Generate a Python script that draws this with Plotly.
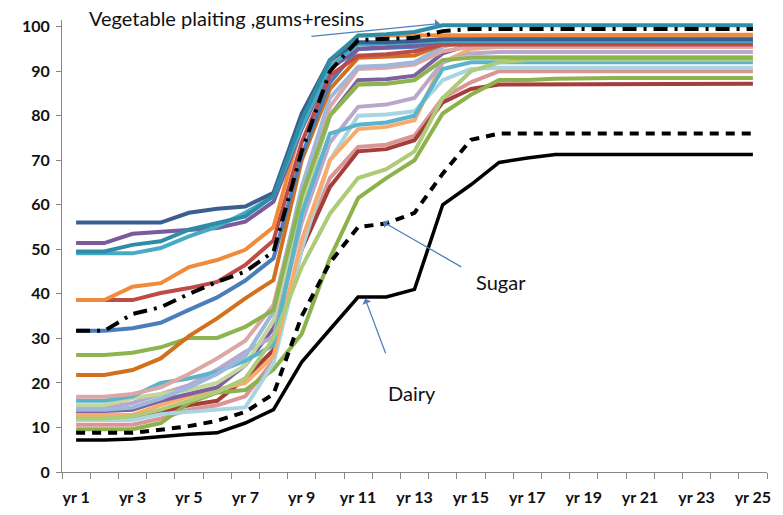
import plotly.graph_objects as go

years = [f"yr {i}" for i in range(1, 26)]
tick_text = [y if i % 2 == 0 else "" for i, y in enumerate(years)]

# ---- data ----
teal_top = [49.5, 49.5, 51.0, 51.8, 54.4, 56.0, 57.4, 62.0, 79.0, 92.5, 98.0, 98.3, 98.8, 100.3, 100.3, 100.3, 100.3, 100.3, 100.3, 100.3, 100.3, 100.3, 100.3, 100.3, 100.3]
teal = [49.1, 49.1, 49.1, 50.3, 52.9, 55.1, 58.2, 61.9, 77.5, 91.0, 96.0, 96.2, 96.5, 96.8, 96.8, 96.8, 96.8, 96.8, 96.8, 96.8, 96.8, 96.8, 96.8, 96.8, 96.8]
dark_blue = [56.0, 56.0, 56.0, 56.0, 58.2, 59.1, 59.6, 62.7, 80.5, 92.5, 96.5, 96.5, 96.8, 97.2, 97.2, 97.2, 97.2, 97.2, 97.2, 97.2, 97.2, 97.2, 97.2, 97.2, 97.2]
purple = [51.4, 51.4, 53.5, 54.0, 54.4, 54.8, 56.2, 60.7, 77.0, 90.5, 95.0, 95.3, 95.8, 96.8, 97.0, 97.0, 97.0, 97.0, 97.0, 97.0, 97.0, 97.0, 97.0, 97.0, 97.0]
orange = [38.6, 38.6, 41.6, 42.4, 46.0, 47.6, 49.9, 55.0, 78.0, 92.0, 98.0, 98.0, 98.0, 98.2, 98.2, 98.2, 98.2, 98.2, 98.2, 98.2, 98.2, 98.2, 98.2, 98.2, 98.2]
red = [38.6, 38.6, 38.6, 40.2, 41.3, 42.7, 46.5, 52.0, 74.0, 89.0, 93.5, 93.8, 94.5, 96.0, 96.0, 96.0, 96.0, 96.0, 96.0, 96.0, 96.0, 96.0, 96.0, 96.0, 96.0]
blue = [31.7, 31.7, 32.3, 33.5, 36.4, 39.2, 43.0, 48.0, 71.0, 87.5, 95.0, 95.2, 95.5, 96.5, 96.6, 96.6, 96.6, 96.6, 96.6, 96.6, 96.6, 96.6, 96.6, 96.6, 96.6]
dark_orange = [21.8, 21.8, 22.9, 25.5, 30.5, 34.5, 39.0, 43.1, 70.0, 86.0, 93.0, 93.2, 93.5, 96.0, 96.2, 96.2, 96.2, 96.2, 96.2, 96.2, 96.2, 96.2, 96.2, 96.2, 96.2]
green = [26.3, 26.3, 26.8, 28.0, 30.1, 30.1, 32.6, 36.4, 62.0, 80.0, 87.0, 87.2, 88.0, 92.5, 93.0, 93.0, 93.0, 93.0, 93.0, 93.0, 93.0, 93.0, 93.0, 93.0, 93.0]
pink = [16.9, 16.9, 17.5, 19.0, 22.0, 25.5, 29.5, 37.5, 63.0, 82.0, 90.5, 90.8, 91.5, 94.5, 95.5, 95.5, 95.5, 95.5, 95.5, 95.5, 95.5, 95.5, 95.5, 95.5, 95.5]
light_teal = [16.0, 16.0, 17.0, 20.0, 21.0, 22.5, 25.0, 28.5, 58.0, 76.0, 78.0, 78.5, 80.0, 90.5, 92.0, 92.0, 92.0, 92.0, 92.0, 92.0, 92.0, 92.0, 92.0, 92.0, 92.0]
light_green = [15.0, 15.0, 16.6, 17.5, 18.4, 20.0, 24.0, 34.0, 60.0, 80.0, 87.0, 87.2, 88.0, 92.5, 93.2, 93.2, 93.2, 93.2, 93.2, 93.2, 93.2, 93.2, 93.2, 93.2, 93.2]
lavender = [14.4, 14.4, 15.5, 17.5, 19.5, 23.0, 27.0, 30.4, 56.0, 74.0, 82.0, 82.5, 84.0, 92.0, 94.0, 94.3, 94.3, 94.3, 94.3, 94.3, 94.3, 94.3, 94.3, 94.3, 94.3]
purple2 = [13.7, 13.7, 14.0, 16.0, 17.5, 19.0, 24.0, 32.3, 60.0, 80.0, 88.0, 88.2, 89.0, 94.0, 96.0, 96.5, 96.5, 96.5, 96.5, 96.5, 96.5, 96.5, 96.5, 96.5, 96.5]
light_orange = [12.8, 12.8, 12.8, 15.0, 17.0, 18.5, 20.0, 26.0, 52.0, 70.0, 77.0, 77.5, 79.0, 92.0, 95.0, 95.5, 95.5, 95.5, 95.5, 95.5, 95.5, 95.5, 95.5, 95.5, 95.5]
light_blue = [11.7, 11.7, 11.7, 13.0, 13.5, 14.0, 14.5, 24.5, 50.0, 70.0, 80.0, 80.3, 81.0, 88.0, 90.5, 90.8, 90.8, 90.8, 90.8, 90.8, 90.8, 90.8, 90.8, 90.8, 90.8]
light_red = [10.6, 10.6, 10.6, 12.0, 14.0, 15.0, 17.0, 25.0, 50.0, 66.0, 73.0, 73.5, 75.5, 84.0, 87.5, 90.0, 90.0, 90.0, 90.0, 90.0, 90.0, 90.0, 90.0, 90.0, 90.0]
dark_red = [12.3, 12.3, 12.3, 13.5, 15.0, 16.0, 21.0, 27.4, 50.0, 64.0, 72.0, 72.5, 74.5, 83.0, 86.0, 87.0, 87.0, 87.2, 87.2, 87.2, 87.2, 87.2, 87.2, 87.2, 87.2]
steel_blue = [14.0, 14.0, 14.5, 16.5, 19.0, 22.0, 26.0, 36.0, 64.0, 84.0, 91.0, 91.3, 92.0, 95.5, 97.0, 97.5, 97.5, 97.5, 97.5, 97.5, 97.5, 97.5, 97.5, 97.5, 97.5]
light_green2 = [12.0, 12.0, 12.5, 14.0, 16.0, 18.0, 21.0, 30.0, 46.0, 58.0, 66.0, 68.0, 72.0, 84.0, 90.0, 92.0, 92.5, 92.5, 92.5, 92.5, 92.5, 92.5, 92.5, 92.5, 92.5]
green2 = [9.6, 9.6, 9.6, 11.0, 15.5, 17.8, 18.4, 23.0, 31.0, 48.0, 61.5, 66.0, 70.0, 80.5, 84.7, 88.0, 88.0, 88.3, 88.5, 88.5, 88.5, 88.5, 88.5, 88.5, 88.5]
veg_dashdot = [31.7, 31.7, 35.5, 37.0, 40.0, 42.7, 45.0, 49.5, 72.0, 90.0, 97.0, 97.2, 97.5, 99.0, 99.5, 99.5, 99.5, 99.5, 99.5, 99.5, 99.5, 99.5, 99.5, 99.5, 99.5]
sugar = [8.8, 8.8, 8.8, 9.5, 10.3, 11.5, 13.5, 17.5, 35.0, 47.0, 55.0, 55.8, 58.2, 67.0, 74.6, 76.0, 76.0, 76.0, 76.0, 76.0, 76.0, 76.0, 76.0, 76.0, 76.0]
dairy = [7.2, 7.2, 7.4, 8.0, 8.5, 8.8, 11.0, 14.0, 24.7, 32.0, 39.3, 39.3, 41.0, 60.0, 64.5, 69.5, 70.5, 71.3, 71.3, 71.3, 71.3, 71.3, 71.3, 71.3, 71.3]

colored = [
    (light_red, "#D99694"), (dark_red, "#A33E3B"), (green2, "#8DB24C"),
    (light_blue, "#A9D4E2"), (light_orange, "#F9AB6B"), (purple2, "#7B61A0"),
    (lavender, "#B8A9CC"), (light_green, "#C3D69B"), (light_teal, "#5BB4CC"),
    (pink, "#DDA7A6"), (steel_blue, "#9DB8DA"), (light_green2, "#AECB78"),
    (green, "#8EB450"), (dark_orange, "#D2701E"), (blue, "#4A7EBB"),
    (red, "#BE4B48"), (orange, "#F08A3C"), (purple, "#7A5A9C"),
    (teal, "#45AAC4"), (dark_blue, "#3A5F8F"), (teal_top, "#2E8DA6"),
]

fig = go.Figure()
for vals, col in colored:
    fig.add_trace(go.Scatter(x=years, y=vals, mode="lines",
                             line=dict(color=col, width=4), hoverinfo="skip"))
fig.add_trace(go.Scatter(x=years, y=veg_dashdot, mode="lines",
                         line=dict(color="black", width=4, dash="14px,7px,3px,7px")))
fig.add_trace(go.Scatter(x=years, y=sugar, mode="lines",
                         line=dict(color="black", width=4, dash="9px,7px")))
fig.add_trace(go.Scatter(x=years, y=dairy, mode="lines",
                         line=dict(color="black", width=3.5)))

tick_font = dict(family="Lato", size=16, color="#111111", weight="bold")
ann_font = dict(family="Lato", size=20, color="#111111")
arrow_col = "#4F81BD"

fig.update_layout(
    width=783, height=515,
    margin=dict(l=62, r=16, t=20, b=43, autoexpand=False),
    paper_bgcolor="white", plot_bgcolor="white",
    showlegend=False,
    xaxis=dict(type="category", tickson="boundaries", tickvals=years, ticktext=tick_text,
               tickangle=0, automargin=False,
               ticks="outside", ticklen=6, tickcolor="#868686", showline=True,
               linecolor="#868686", linewidth=1, showgrid=False, zeroline=False,
               tickfont=tick_font, ticklabelstandoff=11, range=[-0.5, 24.5]),
    yaxis=dict(range=[0, 101.5], tickvals=[0, 10, 20, 30, 40, 50, 60, 70, 80, 90, 100],
               automargin=False,
               ticks="outside", ticklen=5, tickcolor="#868686", showline=True,
               linecolor="#868686", linewidth=1, showgrid=False, zeroline=False,
               tickfont=tick_font, ticklabelstandoff=3),
    annotations=[
        dict(text="Vegetable plaiting ,gums+resins", xref="paper", yref="paper",
             x=0.035, y=1.005, xanchor="left", yanchor="middle", showarrow=False,
             font=ann_font),
        dict(text="", xref="paper", yref="y", x=0.536, y=100.7, ax=-130, ay=13,
             showarrow=True, arrowhead=1, arrowsize=1.2, arrowwidth=1.3, arrowcolor=arrow_col),
        dict(text="Sugar", xref="paper", yref="y", x=0.623, y=42.7, showarrow=False,
             font=ann_font),
        dict(text="", xref="paper", yref="y", x=0.455, y=56.2, ax=80, ay=46,
             showarrow=True, arrowhead=1, arrowsize=1.2, arrowwidth=1.3, arrowcolor=arrow_col),
        dict(text="Dairy", xref="paper", yref="y", x=0.496, y=17.8, showarrow=False,
             font=ann_font),
        dict(text="", xref="paper", yref="y", x=0.430, y=38.9, ax=21, ay=56,
             showarrow=True, arrowhead=1, arrowsize=1.2, arrowwidth=1.3, arrowcolor=arrow_col),
    ],
)

fig.write_html("out.html", config={"displayModeBar": False},
               post_script="document.body.style.margin='0';document.body.style.overflow='hidden';")
